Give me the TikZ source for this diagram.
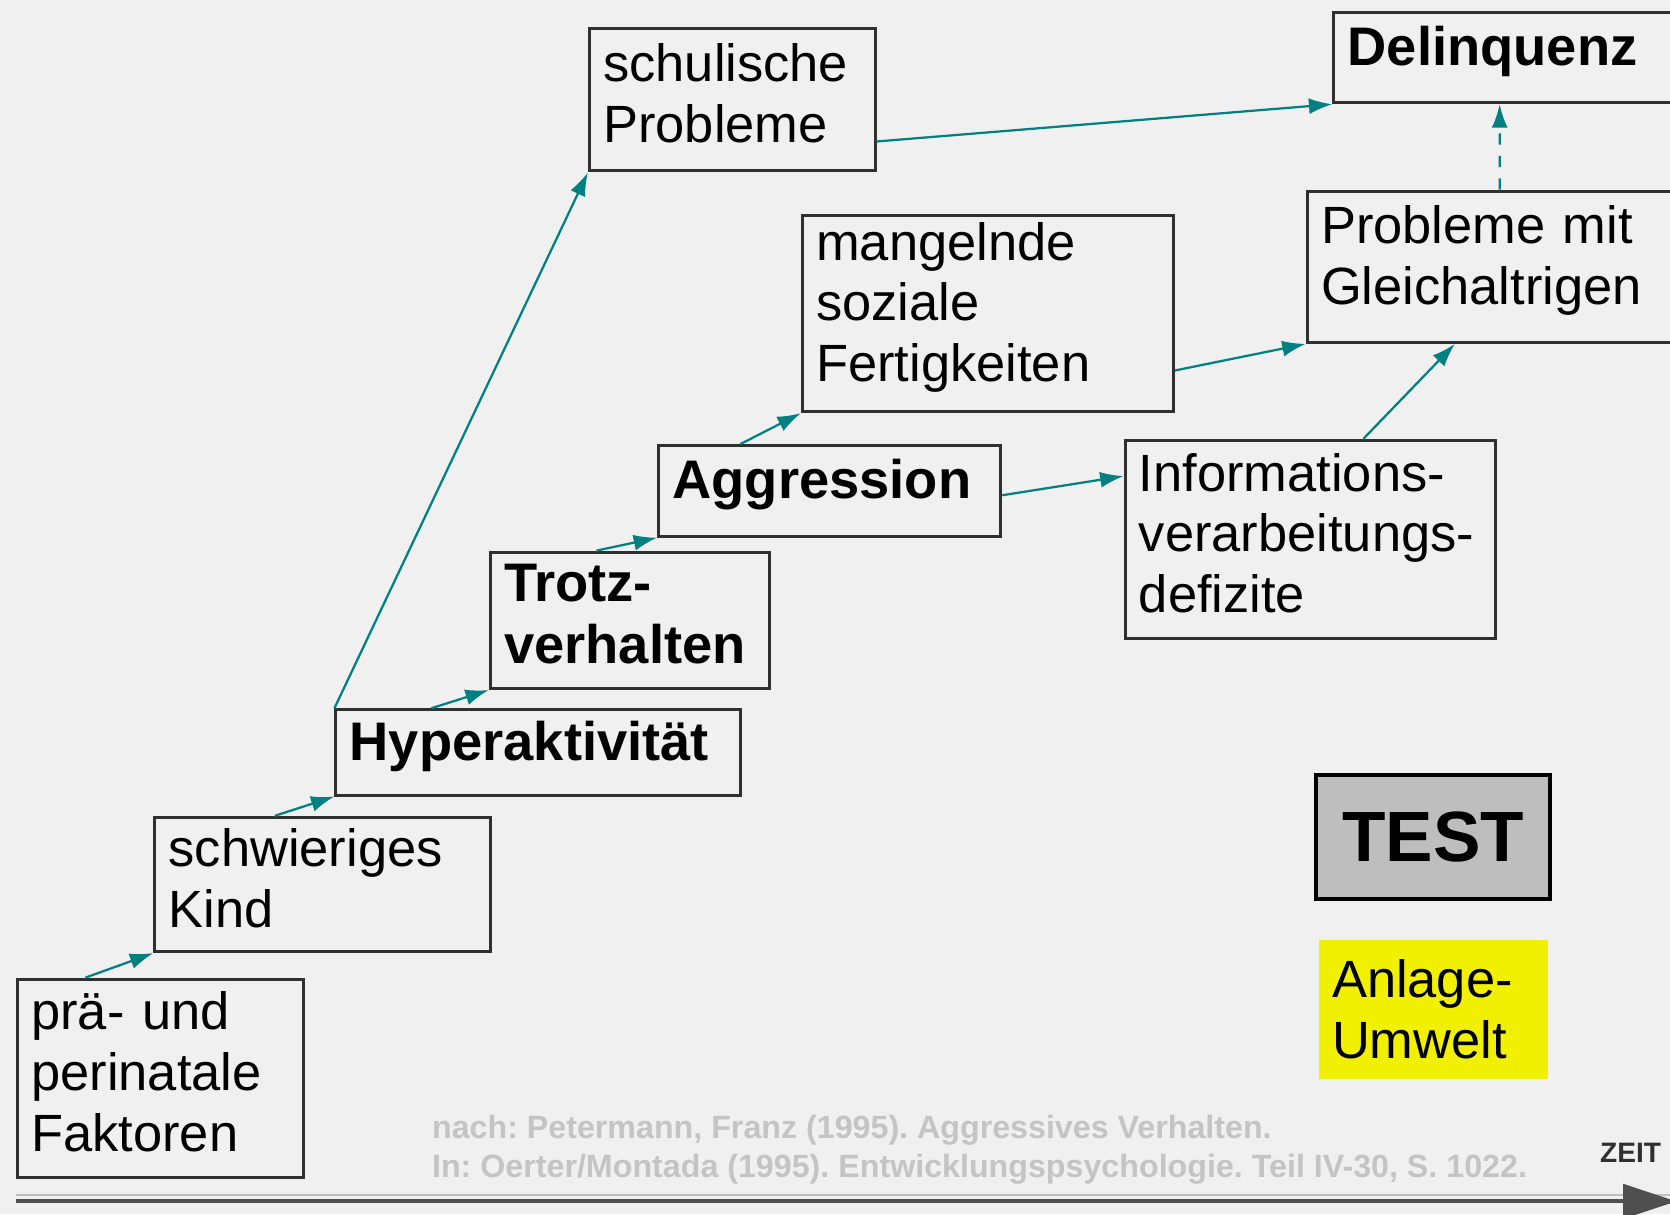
\documentclass[tikz,border=0pt]{standalone}
\usepackage{fontspec}
\setmainfont{Liberation Sans}
\usetikzlibrary{arrows.meta}
\definecolor{linkteal}{RGB}{0,128,128}
\definecolor{boxline}{RGB}{48,48,48}
\definecolor{bggray}{RGB}{240,240,240}
\definecolor{testgray}{RGB}{190,190,190}
\definecolor{anlageyellow}{RGB}{240,240,0}
\definecolor{citegray}{RGB}{196,196,196}
\tikzset{
  stage/.style={draw=boxline, line width=0.8pt, anchor=north west, align=left,
    inner xsep=0.13cm, inner ysep=0pt, font=\fontsize{14}{16.2}\selectfont,
    execute at end node={\par\vspace*{0.12cm}}},
  keystage/.style={stage, font=\fontsize{14.5}{16.5}\selectfont\bfseries},
  link/.style={draw=linkteal, line width=0.6pt, -{Latex[length=0.22cm,width=0.15cm]}},
}

\begin{document}
\begin{tikzpicture}[x=0.01cm, y=-0.01cm]
  \useasboundingbox (0,0) rectangle (1568,1140);
  \fill [bggray] (0,0) rectangle (1568,1140);
  \clip (0,0) rectangle (1568,1140);

  % stages
  \node [stage, minimum width=2.68cm, minimum height=1.86cm, text width=2.42cm] (praeFakt) at (15,918) {prä- und\\perinatale\\Faktoren};
  \node [stage, minimum width=3.15cm, minimum height=1.26cm, text width=2.89cm] (schwierig) at (144,766) {schwieriges\\Kind};
  \node [keystage, minimum width=3.80cm, minimum height=0.80cm, text width=3.54cm] (hyper) at (314,665) {Hyperaktivität};
  \node [keystage, minimum width=2.62cm, minimum height=1.28cm, text width=2.36cm] (trotz) at (459,517) {Trotz-\\verhalten};
  \node [keystage, minimum width=3.21cm, minimum height=0.85cm, text width=2.95cm] (aggr) at (617,417) {Aggression};
  \node [stage, minimum width=3.48cm, minimum height=1.84cm, text width=3.22cm] (mangel) at (752,201) {mangelnde\\soziale\\Fertigkeiten};
  \node [stage, minimum width=2.68cm, minimum height=1.34cm, text width=2.42cm] (schul) at (552,25) {schulische\\Probleme};
  \node [stage, minimum width=3.48cm, minimum height=1.86cm, text width=3.22cm] (info) at (1055,412) {Informations-\\verarbeitungs-\\defizite};
  \node [stage, minimum width=3.60cm, minimum height=1.42cm, text width=3.34cm] (gleich) at (1226,178) {Probleme mit\\Gleichaltrigen};
  \node [keystage, minimum width=3.40cm, minimum height=0.85cm, text width=3.14cm] (delinq) at (1251,10) {Delinquenz};

  % legend
  \node [draw=black, line width=1.1pt, fill=testgray, anchor=north west, minimum width=2.19cm, minimum height=1.16cm,
    font=\fontsize{19}{21}\selectfont\bfseries] (test) at (1234,726) {TEST};
  \node [fill=anlageyellow, anchor=north west, align=left, minimum width=2.15cm, minimum height=1.30cm,
    text width=1.91cm, inner xsep=0.12cm, font=\fontsize{14}{16.2}\selectfont] (anlage) at (1238,882) {Anlage-\\Umwelt};

  % links
  \draw [link] ([xshift=0.65cm]praeFakt.north west) -- (schwierig.south west);
  \draw [link] ([xshift=1.14cm]schwierig.north west) -- (hyper.south west);
  \draw [link] ([xshift=0.91cm]hyper.north west) -- (trotz.south west);
  \draw [link] (hyper.north west) -- (schul.south west);
  \draw [link] ([xshift=1.01cm]trotz.north west) -- (aggr.south west);
  \draw [link] ([xshift=0.78cm]aggr.north west) -- (mangel.south west);
  \draw [link] ([yshift=-0.48cm]aggr.north east) -- ([yshift=-0.35cm]info.north west);
  \draw [link] ([yshift=0.40cm]mangel.south east) -- (gleich.south west);
  \draw [link] ([xshift=2.25cm]info.north west) -- ([xshift=1.40cm]gleich.south west);
  \draw [link] ([yshift=0.29cm]schul.south east) -- (delinq.south west);
  \draw [link, dashed] ([xshift=1.82cm]gleich.north west) -- ([xshift=1.57cm]delinq.south west);

  % source and time axis
  \node [anchor=north west, align=left, text=citegray, inner sep=0pt,
    font=\fontsize{8.6}{10.4}\selectfont\bfseries\frenchspacing] (quelle) at (405,1046)
    {nach: Petermann, Franz (1995). Aggressives Verhalten.\\In: Oerter/Montada (1995). Entwicklungspsychologie. Teil IV-30, S. 1022.};
  \node [text=boxline, inner sep=0pt, font=\fontsize{7.5}{9}\selectfont\bfseries] (zeit) at (1531,1082) {ZEIT};
  \coordinate (tstart) at (15,1128);
  \coordinate (tend) at (1574,1128);
  \draw [gray!50, line width=0.6pt] ([yshift=0.06cm]tstart) -- ([yshift=0.06cm]tend);
  \draw [boxline!85, line width=1.1pt, -{Triangle[length=0.5cm,width=0.32cm]}] (tstart) -- (tend);
\end{tikzpicture}
\end{document}
